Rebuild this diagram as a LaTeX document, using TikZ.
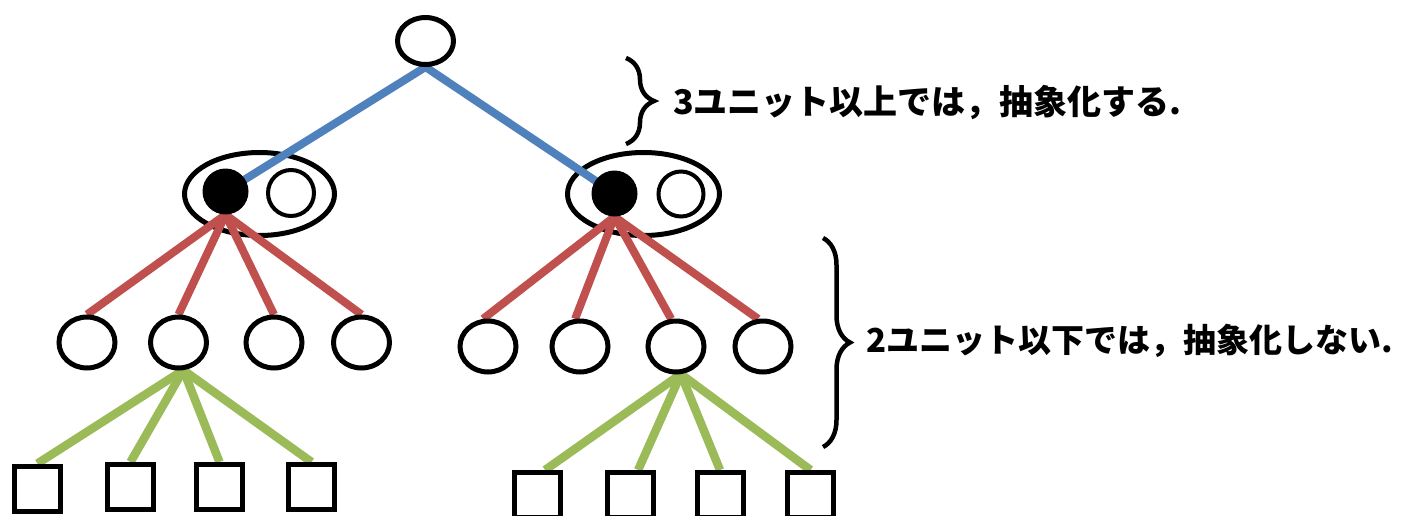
\documentclass[tikz,border=0pt]{standalone}
\usepackage{fontspec}
\newfontfamily\jp{Noto Sans CJK JP}
\usetikzlibrary{shapes.geometric,decorations.pathreplacing}
\pgfdeclarelayer{bg}
\pgfdeclarelayer{edges}
\pgfsetlayers{bg,edges,main}
\definecolor{cblue}{HTML}{4F81BD}
\definecolor{cred}{HTML}{C0504D}
\definecolor{cgreen}{HTML}{9BBB59}
\begin{document}
\begin{tikzpicture}[x=1pt,y=-1pt,
  circnode/.style={draw, line width=5, ellipse, fill=white, inner sep=0, minimum width=56, minimum height=51},
  bigell/.style={draw, line width=5, ellipse, fill=white, inner sep=0, minimum width=150, minimum height=83},
  dotnode/.style={circle, fill=black, inner sep=0, minimum size=46},
  smallcirc/.style={draw, line width=4, circle, fill=white, inner sep=0, minimum size=45},
  sqnode/.style={draw, line width=5, rectangle, fill=white, inner sep=0, minimum width=46, minimum height=45},
  blueline/.style={draw=cblue, line width=8},
  redline/.style={draw=cred, line width=8},
  greenline/.style={draw=cgreen, line width=8.5},
  bracestyle/.style={draw, line width=4.5, decorate, decoration={brace, amplitude=28}},
  lab/.style={anchor=west, inner sep=0, font=\jp\bfseries\fontsize{34}{40}\selectfont}
]
\path[use as bounding box, clip] (0,0) rectangle (1406,515);

% big ellipses (behind connectors)
\begin{pgfonlayer}{bg}
  \node[bigell] (E1) at (259.5,194) {};
  \node[bigell, minimum width=152] (E2) at (643.5,194) {};
\end{pgfonlayer}

% root
\node[circnode, minimum height=47] (root) at (425.5,41) {};

% units inside ellipses
\node[dotnode] (d1) at (225.5,191.5) {};
\node[smallcirc, minimum width=44, minimum height=46] (w1) at (291,193) {};
\node[dotnode] (d2) at (614.5,193.5) {};
\node[smallcirc] (w2) at (681,194) {};

% level 2 circles
\node[circnode] (a1) at (87,342.5) {};
\node[circnode] (a2) at (178.5,342.5) {};
\node[circnode] (a3) at (274,342.5) {};
\node[circnode] (a4) at (361.5,342.5) {};
\node[circnode] (b1) at (488,346.5) {};
\node[circnode] (b2) at (580,346.5) {};
\node[circnode] (b3) at (676,346.5) {};
\node[circnode] (b4) at (763,346.5) {};

% squares
\node[sqnode] (s1) at (37.5,488.5) {};
\node[sqnode] (s2) at (130.5,487) {};
\node[sqnode] (s3) at (219.5,487) {};
\node[sqnode] (s4) at (311.5,487) {};
\node[sqnode] (t1) at (537,495) {};
\node[sqnode] (t2) at (630,495) {};
\node[sqnode] (t3) at (720,495) {};
\node[sqnode] (t4) at (810.5,495) {};

% connectors
\begin{pgfonlayer}{edges}
  \path[blueline] (root.south) -- (d1.center);
  \path[blueline] (root.south) -- (d2.center);
  \foreach \n in {a1,a2,a3,a4} \path[redline] (d1.south) -- (\n.north);
  \foreach \n in {b1,b2,b3,b4} \path[redline] (d2.south) -- (\n.100);
  \foreach \n in {s1,s2,s3,s4} \path[greenline] (a2.-80) -- (\n.north);
  \foreach \n in {t1,t2} \path[greenline] (b3.-80) -- (\n.72);
  \foreach \n in {t3,t4} \path[greenline] (b3.-80) -- (\n.north);
\end{pgfonlayer}

% braces and labels
\coordinate (br1a) at (626,58);
\coordinate (br1b) at (626,144);
\coordinate (br2a) at (823,238);
\coordinate (br2b) at (823,447);
\path[bracestyle] (br1a) -- (br1b);
\path[bracestyle, decoration={brace, amplitude=27}] (br2a) -- (br2b);
\node[lab] (L1) at (673,103) {3ユニット以上では，抽象化する.};
\node[lab, font=\jp\bfseries\fontsize{33}{40}\selectfont] (L2) at (866,341) {2ユニット以下では，抽象化しない.};
\end{tikzpicture}
\end{document}
